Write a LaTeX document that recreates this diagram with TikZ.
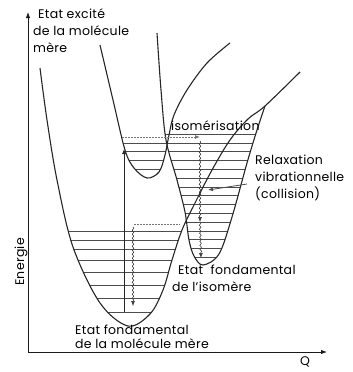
\documentclass[tikz,border=0pt]{standalone}
\usepackage{fontspec}
\setmainfont{Poppins}[LetterSpace=2.5]
\usetikzlibrary{arrows.meta, decorations.pathmorphing, positioning}
\tikzset{
  courbe/.style={black!85, line width=1.1pt},
  niveau/.style={black!70, line width=0.6pt},
  pointille/.style={black!55, line width=0.8pt, dash pattern=on 1.6pt off 1.4pt},
  fleche/.style={black!85, line width=0.8pt, -{Latex[length=5pt,width=4pt]}},
  ondule/.style={black!75, line width=0.6pt, decorate, decoration={snake, amplitude=0.8pt, segment length=4pt, post length=4pt}},
  etiquette/.style={font=\fontsize{12.5}{17}\selectfont, inner sep=0pt, align=left},
  axe/.style={black!90, line width=1pt, -{Latex[length=6pt,width=4.5pt]}}
}
% Les trois courbes de potentiel (coordonnees en pixels, y vers le bas)
\newcommand{\courbeMere}{plot[smooth, tension=0.55] coordinates {(40,68) (47,120) (57,180) (73,247) (100,303) (128,326) (150,314) (163,290) (172,260) (182,230) (194,205) (212,170) (230,140) (248,119) (265,106) (300,72)}}
\newcommand{\courbeExcite}{plot[smooth, tension=0.55] coordinates {(100,45) (113,100) (125,150) (134,168) (147,178) (159,172) (165,155) (169,135) (174,115) (187,90) (207,63) (230,43)}}
\newcommand{\courbeIsomere}{plot[smooth, tension=0.55] coordinates {(157,33) (161,90) (166,140) (177,180) (185,212) (189,240) (194,256) (203,265) (219,254) (232,217) (247,163) (257,130) (265,106)}}
\begin{document}
\begin{tikzpicture}[x=1pt, y=-1pt]
    \useasboundingbox (0,0) rectangle (353,372);

    % Niveaux vibrationnels de l'isomere
    \begin{scope}
        \clip \courbeIsomere -- cycle;
        \foreach \k in {0,...,14} {
            \pgfmathsetmacro{\yy}{134+8.8*\k}
            \draw[niveau] (150,\yy) -- (300,\yy);
        }
    \end{scope}
    % Niveaux de l'etat excite
    \begin{scope}
        \clip \courbeExcite -- cycle;
        \foreach \k in {1,...,4} {
            \pgfmathsetmacro{\yy}{134+8.8*\k}
            \draw[niveau] (100,\yy) -- (200,\yy);
        }
    \end{scope}
    % Niveaux de l'etat fondamental de la molecule mere
    \begin{scope}
        \clip \courbeMere -- cycle;
        \foreach \yy in {231,240,249,260,272,285,298,312} {
            \draw[niveau] (30,\yy) -- (260,\yy);
        }
    \end{scope}

    % Les courbes
    \draw[courbe] \courbeMere;
    \draw[courbe] \courbeExcite;
    \draw[courbe] \courbeIsomere;

    % Axes
    \coordinate (origine) at (28,352);
    \coordinate (ymax) at (28,12);
    \coordinate (xmax) at (327,352);
    \draw[axe] (origine) -- (ymax);
    \draw[axe] (origine) -- (xmax);

    % Excitation verticale
    \coordinate (excBas) at (124,312);
    \coordinate (excHaut) at (124,149);
    \draw[fleche] (excBas) -- (excHaut);

    % Isomerisation puis relaxation
    \coordinate (isoDep) at (122,137);
    \coordinate (isoArr) at (200,137);
    \coordinate (relA) at (200,222);
    \coordinate (relB) at (201,258);
    \draw[pointille, -{Latex[length=5pt,width=4pt]}] (isoDep) -- (isoArr);
    \draw[ondule, -{Latex[length=5pt,width=4pt]}] (200,141) -- (relA);
    \draw[ondule, -{Latex[length=5pt,width=4pt]}] (relA) -- (relB);

    % Retour vers la molecule mere
    \coordinate (retDep) at (134,224);
    \coordinate (retArr) at (180,224);
    \coordinate (retBas) at (133,306);
    \draw[pointille] (retDep) -- (retArr);
    \draw[ondule, -{Latex[length=5pt,width=4pt]}] (133,227) -- (retBas);

    % Textes
    \node[etiquette, anchor=north west] (excite) at (33,9) {\hspace{5pt}Etat excité\\de la molécule\\mère};
    \node[etiquette, anchor=west] (isom) at (171,126) {isomérisation};
    \node[etiquette, anchor=north west] (relax) at (255,155) {Relaxation\\vibrationnelle\\(collision)};
    \node[etiquette, anchor=north west] (fondIso) at (172,265) {\hspace{6pt}Etat\hspace{4pt} fondamental\\de l'isomère};
    \node[etiquette, anchor=north west, font=\fontsize{12.5}{13.5}\selectfont] (fondMere) at (75,325) {Etat fondamental\\de la molécule mère};
    \node[etiquette, rotate=90] (energie) at (21,262) {Energie};
    \node[etiquette] (q) at (305,362) {Q};

    % Fleche de la relaxation
    \coordinate (relaxPied) at (247,184);
    \coordinate (relaxPointe) at (208,190);
    \draw[fleche, black!70] (relaxPied) -- (relaxPointe);
\end{tikzpicture}
\end{document}
